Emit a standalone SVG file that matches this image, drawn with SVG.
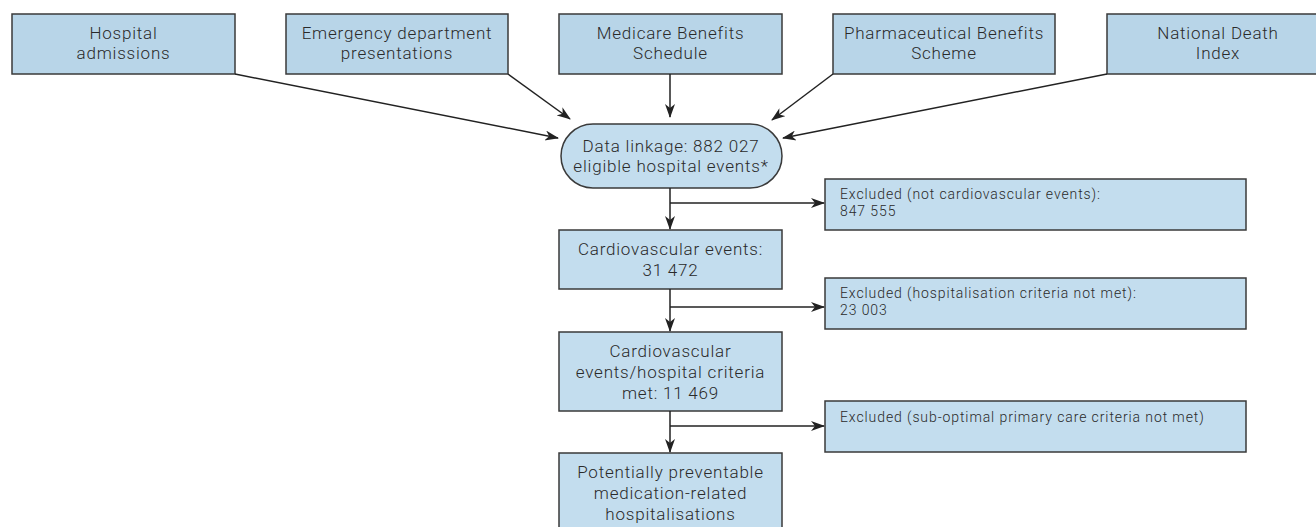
<svg xmlns="http://www.w3.org/2000/svg" width="1316" height="527" viewBox="0 0 1316 527">
<defs>
<marker id="ah" markerWidth="14" markerHeight="10" refX="13" refY="5" orient="auto" markerUnits="userSpaceOnUse">
<path d="M0,0 L14,5 L0,10 L4,5 z" fill="#222"/>
</marker>
<style>
.src{fill:#b8d5e8;stroke:#3a3a3a;stroke-width:1.5}
.flow{fill:#c3ddee;stroke:#3a3a3a;stroke-width:1.5}
.exc{fill:#c3ddee;stroke:#3a3a3a;stroke-width:1.5}
.t{font-family:Roboto,"Open Sans","Liberation Sans",Arial,sans-serif;font-size:17px;letter-spacing:0.8px;font-weight:300;fill:#2a2a2a;text-anchor:middle}
.s{font-family:Roboto,"Open Sans","Liberation Sans",Arial,sans-serif;font-size:14px;letter-spacing:0.9px;font-weight:300;fill:#2a2a2a}
.c{fill:none;stroke:#222;stroke-width:1.5}
</style>
</defs>
<rect width="1316" height="527" fill="#ffffff"/>
<g id="n-hospital"><rect class="src" x="12" y="14" width="223" height="60"/><text class="t" x="123.5" y="39">Hospital</text><text class="t" x="123.5" y="59">admissions</text></g>
<g id="n-emergency"><rect class="src" x="286" y="14" width="222" height="60"/><text class="t" x="397" y="39">Emergency department</text><text class="t" x="397" y="59">presentations</text></g>
<g id="n-medicare"><rect class="src" x="559" y="14" width="223" height="60"/><text class="t" x="670.5" y="39">Medicare Benefits</text><text class="t" x="670.5" y="59">Schedule</text></g>
<g id="n-pbs"><rect class="src" x="833" y="14" width="222" height="60"/><text class="t" x="944" y="39">Pharmaceutical Benefits</text><text class="t" x="944" y="59">Scheme</text></g>
<g id="n-ndi"><rect class="src" x="1107" y="14" width="223" height="60"/><text class="t" x="1218" y="39">National Death</text><text class="t" x="1218" y="59">Index</text></g>
<g id="n-linkage"><rect class="flow" x="561" y="124" width="221" height="64" rx="32" ry="32"/><text class="t" x="671" y="152">Data linkage: 882 027</text><text class="t" x="671" y="172">eligible hospital events*</text></g>
<g id="n-cardio"><rect class="flow" x="559" y="230" width="223" height="59"/><text class="t" x="670.5" y="255">Cardiovascular events:</text><text class="t" x="670.5" y="276">31 472</text></g>
<g id="n-criteria"><rect class="flow" x="559" y="332" width="223" height="79"/><text class="t" x="670.5" y="357">Cardiovascular</text><text class="t" x="670.5" y="378">events/hospital criteria</text><text class="t" x="670.5" y="399">met: 11 469</text></g>
<g id="n-ppmrh"><rect class="flow" x="559" y="453" width="223" height="90"/><text class="t" x="670.5" y="478">Potentially preventable</text><text class="t" x="670.5" y="499">medication-related</text><text class="t" x="670.5" y="520">hospitalisations</text></g>
<g id="n-exc1"><rect class="exc" x="825" y="179" width="421" height="51"/><text class="s" x="840" y="199">Excluded (not cardiovascular events):</text><text class="s" x="840" y="216">847 555</text></g>
<g id="n-exc2"><rect class="exc" x="825" y="278" width="421" height="51"/><text class="s" x="840" y="298">Excluded (hospitalisation criteria not met):</text><text class="s" x="840" y="315">23 003</text></g>
<g id="n-exc3"><rect class="exc" x="825" y="401" width="421" height="51"/><text class="s" x="840" y="422">Excluded (sub-optimal primary care criteria not met)</text></g>
<g id="connectors">
<line class="c" x1="235" y1="74" x2="558" y2="138" marker-end="url(#ah)"/>
<line class="c" x1="508" y1="74" x2="570" y2="119" marker-end="url(#ah)"/>
<line class="c" x1="670" y1="74" x2="670" y2="117" marker-end="url(#ah)"/>
<line class="c" x1="833" y1="74" x2="772" y2="120" marker-end="url(#ah)"/>
<line class="c" x1="1107" y1="74" x2="783" y2="138" marker-end="url(#ah)"/>
<line class="c" x1="670" y1="188" x2="670" y2="229" marker-end="url(#ah)"/>
<line class="c" x1="670" y1="203" x2="824" y2="203" marker-end="url(#ah)"/>
<line class="c" x1="670" y1="289" x2="670" y2="331" marker-end="url(#ah)"/>
<line class="c" x1="670" y1="307" x2="824" y2="307" marker-end="url(#ah)"/>
<line class="c" x1="670" y1="411" x2="670" y2="452" marker-end="url(#ah)"/>
<line class="c" x1="670" y1="426" x2="824" y2="426" marker-end="url(#ah)"/>
</g>
</svg>
